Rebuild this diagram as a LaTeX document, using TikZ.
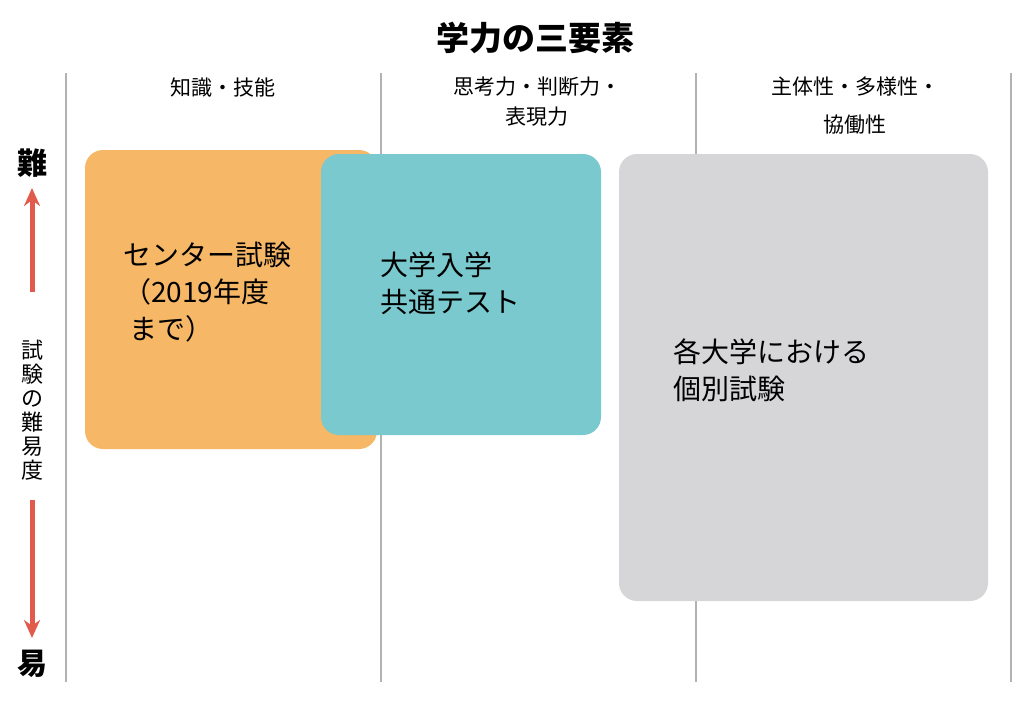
\documentclass[tikz,border=0pt]{standalone}
\usepackage{fontspec}
\setmainfont{Noto Sans CJK JP}
\usetikzlibrary{positioning}
\usetikzlibrary{arrows.meta}
\tikzset{>=stealth}
\definecolor{boxorange}{RGB}{246,183,103}
\definecolor{boxteal}{RGB}{121,201,206}
\definecolor{boxgray}{RGB}{214,214,216}
\definecolor{arrowred}{RGB}{225,90,75}
\tikzset{
	colline/.style={draw=gray!60,line width=1.2pt},
	head/.style={font=\fontsize{21}{25}\selectfont,align=center,inner sep=0pt},
	boxtext/.style={font=\fontsize{28}{37}\selectfont,align=left,anchor=north west,inner sep=0pt},
	bigchar/.style={font=\fontsize{30}{30}\selectfont\bfseries,inner sep=0pt},
	diff/.style={-{Stealth[length=18pt,width=16pt]},draw=arrowred,fill=arrowred,line width=5pt},
}
\begin{document}
\begin{tikzpicture}[x=1pt,y=-1pt]
	\useasboundingbox (0,0) rectangle (1026,702);
	% columns
	\foreach \x in {66,381,696,1011}
		\draw[colline] (\x,73) -- (\x,682);
	% boxes
	\fill[boxorange,rounded corners=18pt] (85,150) rectangle (377,449);
	\fill[boxteal,rounded corners=18pt] (321,154) rectangle (601,435);
	\fill[boxgray,rounded corners=18pt] (619,154) rectangle (988,601);
	% title and headers
	\node[font=\fontsize{33}{36}\selectfont\bfseries] (title) at (535,38) {学力の三要素};
	\node[head] (h1) at (223,88) {知識・技能};
	\node[head,font=\fontsize{21}{30}\selectfont] (h2) at (537,102) {思考力・判断力・\\表現力};
	\node[head,font=\fontsize{21}{38}\selectfont] (h3) at (855,106) {主体性・多様性・\\協働性};
	% box texts
	\node[boxtext] (center) at (123,242) {センター試験\\（2019年度\\\ まで）};
	\node[boxtext] (common) at (380,252) {大学入学\\共通テスト};
	\node[boxtext] (indiv) at (673,339) {各大学における\\個別試験};
	% difficulty axis
	\node[bigchar] (hard) at (32,163) {難};
	\node[bigchar] (easy) at (32,664) {易};
	\node[font=\fontsize{22}{24}\selectfont,align=center,inner sep=0pt] (level) at (32,410) {試\\験\\の\\難\\易\\度};
	\coordinate (uptop) at (32,188);
	\coordinate (downend) at (32,638);
	\draw[diff] (32,292) -- (uptop);
	\draw[diff] (32,500) -- (downend);
\end{tikzpicture}
\end{document}
